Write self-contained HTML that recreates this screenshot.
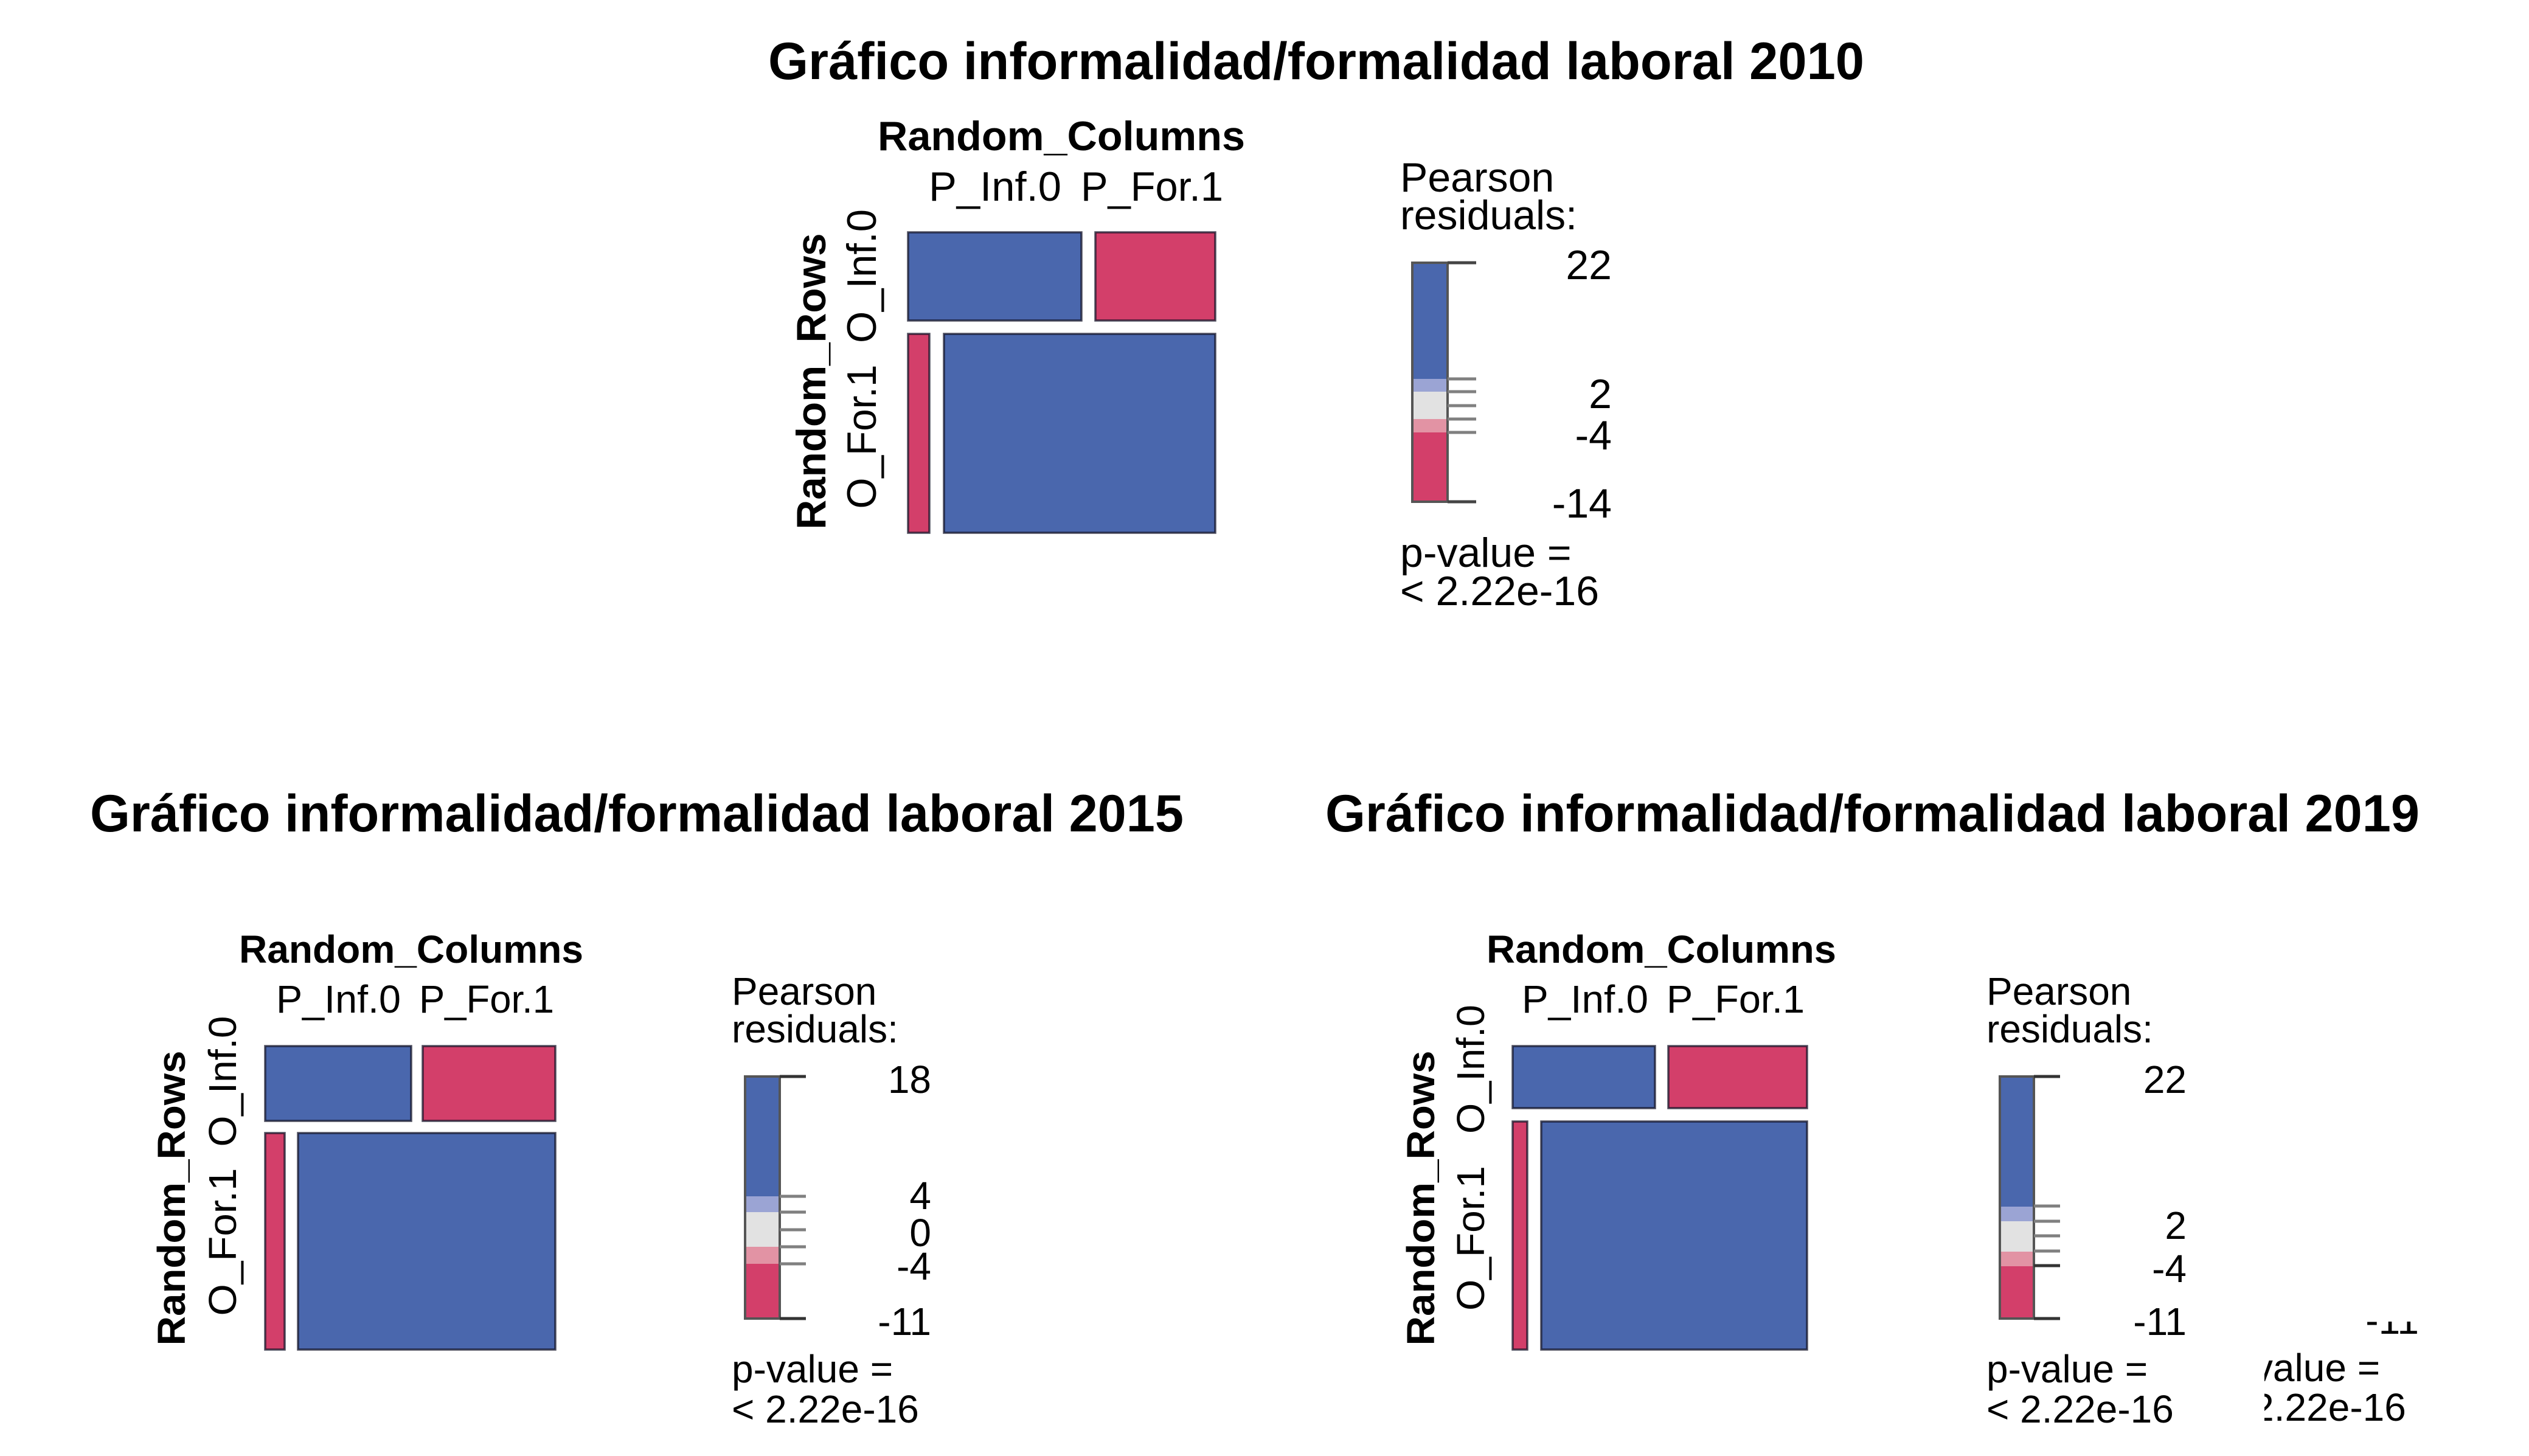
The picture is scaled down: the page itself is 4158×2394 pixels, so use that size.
<!DOCTYPE html>
<html>
<head>
<meta charset="utf-8">
<style>
html,body{margin:0;padding:0;background:#fff;}
svg{display:block;}
text{font-family:"Liberation Sans",Arial,sans-serif;fill:#000;}
.t{font-weight:bold;font-size:86px;}
.b{font-weight:bold;}
</style>
</head>
<body>
<svg xmlns="http://www.w3.org/2000/svg" width="4158" height="2394" viewBox="0 0 4158 2394">
<rect x="0" y="0" width="4158" height="2394" fill="#fff"/>
<defs>
<clipPath id="dup"><rect x="3723" y="2173" width="435" height="221"/></clipPath>
</defs>

<!-- Titles -->
<text class="t" x="1263" y="130" textLength="1802" lengthAdjust="spacingAndGlyphs">Gráfico informalidad/formalidad laboral 2010</text>
<text class="t" x="148" y="1367" font-size="84" textLength="1798" lengthAdjust="spacingAndGlyphs">Gráfico informalidad/formalidad laboral 2015</text>
<text class="t" x="2179" y="1367" font-size="84" textLength="1799" lengthAdjust="spacingAndGlyphs">Gráfico informalidad/formalidad laboral 2019</text>

<!-- ===== Panel 2010 ===== -->
<g font-size="68">
<text class="b" x="1443" y="247" textLength="604" lengthAdjust="spacingAndGlyphs">Random_Columns</text>
<text x="1527" y="330" textLength="218" lengthAdjust="spacingAndGlyphs">P_Inf.0</text>
<text x="1777" y="330" textLength="234" lengthAdjust="spacingAndGlyphs">P_For.1</text>
<g stroke="rgba(20,20,40,0.75)" stroke-width="3.5">
<rect x="1493" y="382" width="285" height="145" fill="#4A67AD"/>
<rect x="1801" y="382" width="197" height="145" fill="#D33F6A"/>
<rect x="1493" y="549" width="35" height="327" fill="#D33F6A"/>
<rect x="1552" y="549" width="446" height="327" fill="#4A67AD"/>
</g>
<text class="b" transform="translate(1357,627) rotate(-90)" text-anchor="middle" textLength="487" lengthAdjust="spacingAndGlyphs">Random_Rows</text>
<text transform="translate(1440,718) rotate(-90)" text-anchor="middle" textLength="237" lengthAdjust="spacingAndGlyphs">O_For.1</text>
<text transform="translate(1440,454) rotate(-90)" text-anchor="middle" textLength="220" lengthAdjust="spacingAndGlyphs">O_Inf.0</text>
<!-- legend -->
<text x="2302" y="315">Pearson</text>
<text x="2302" y="377">residuals:</text>
<rect x="2322" y="432" width="58" height="191" fill="#4A67AD"/>
<rect x="2322" y="623" width="58" height="21" fill="#9BA4D4"/>
<rect x="2322" y="644" width="58" height="45" fill="#E2E2E2"/>
<rect x="2322" y="689" width="58" height="22" fill="#E293A4"/>
<rect x="2322" y="711" width="58" height="114" fill="#D33F6A"/>
<rect x="2322" y="432" width="58" height="393" fill="none" stroke="#555" stroke-width="4"/>
<g stroke-width="5">
<line x1="2380" y1="432" x2="2427" y2="432" stroke="#444"/>
<line x1="2380" y1="623" x2="2427" y2="623" stroke="#808080"/>
<line x1="2380" y1="644" x2="2427" y2="644" stroke="#808080"/>
<line x1="2380" y1="667" x2="2427" y2="667" stroke="#808080"/>
<line x1="2380" y1="689" x2="2427" y2="689" stroke="#808080"/>
<line x1="2380" y1="711" x2="2427" y2="711" stroke="#808080"/>
<line x1="2380" y1="825" x2="2427" y2="825" stroke="#444"/>
</g>
<g text-anchor="end">
<text x="2650" y="459">22</text>
<text x="2650" y="671">2</text>
<text x="2650" y="739">-4</text>
<text x="2650" y="851">-14</text>
</g>
<text x="2302" y="932">p-value =</text>
<text x="2302" y="995">&lt; 2.22e-16</text>
</g>

<!-- ===== Panel 2015 ===== -->
<g font-size="64">
<text class="b" x="393" y="1583" textLength="566" lengthAdjust="spacingAndGlyphs">Random_Columns</text>
<text x="454" y="1665" textLength="205" lengthAdjust="spacingAndGlyphs">P_Inf.0</text>
<text x="689" y="1665" textLength="222" lengthAdjust="spacingAndGlyphs">P_For.1</text>
<g stroke="rgba(20,20,40,0.75)" stroke-width="3.5">
<rect x="436" y="1720" width="240" height="123" fill="#4A67AD"/>
<rect x="695" y="1720" width="218" height="123" fill="#D33F6A"/>
<rect x="436" y="1863" width="32" height="356" fill="#D33F6A"/>
<rect x="490" y="1863" width="423" height="356" fill="#4A67AD"/>
</g>
<text class="b" transform="translate(304,1970) rotate(-90)" text-anchor="middle" textLength="485" lengthAdjust="spacingAndGlyphs">Random_Rows</text>
<text transform="translate(388,2042) rotate(-90)" text-anchor="middle" textLength="243" lengthAdjust="spacingAndGlyphs">O_For.1</text>
<text transform="translate(388,1778) rotate(-90)" text-anchor="middle" textLength="215" lengthAdjust="spacingAndGlyphs">O_Inf.0</text>
<!-- legend -->
<text x="1203" y="1652">Pearson</text>
<text x="1203" y="1714">residuals:</text>
<rect x="1225" y="1770" width="57" height="197" fill="#4A67AD"/>
<rect x="1225" y="1967" width="57" height="26" fill="#9BA4D4"/>
<rect x="1225" y="1993" width="57" height="57" fill="#E2E2E2"/>
<rect x="1225" y="2050" width="57" height="28" fill="#E293A4"/>
<rect x="1225" y="2078" width="57" height="90" fill="#D33F6A"/>
<rect x="1225" y="1770" width="57" height="398" fill="none" stroke="#555" stroke-width="4"/>
<g stroke-width="5">
<line x1="1282" y1="1770" x2="1325" y2="1770" stroke="#333"/>
<line x1="1282" y1="1967" x2="1325" y2="1967" stroke="#808080"/>
<line x1="1282" y1="1993" x2="1325" y2="1993" stroke="#808080"/>
<line x1="1282" y1="2022" x2="1325" y2="2022" stroke="#808080"/>
<line x1="1282" y1="2050" x2="1325" y2="2050" stroke="#808080"/>
<line x1="1282" y1="2078" x2="1325" y2="2078" stroke="#808080"/>
<line x1="1282" y1="2168" x2="1325" y2="2168" stroke="#333"/>
</g>
<g text-anchor="end">
<text x="1531" y="1797">18</text>
<text x="1531" y="1988">4</text>
<text x="1531" y="2049">0</text>
<text x="1531" y="2104">-4</text>
<text x="1531" y="2195">-11</text>
</g>
<text x="1203" y="2273">p-value =</text>
<text x="1203" y="2339">&lt; 2.22e-16</text>
</g>

<!-- ===== Panel 2019 ===== -->
<g font-size="64">
<text class="b" x="2444" y="1583" textLength="575" lengthAdjust="spacingAndGlyphs">Random_Columns</text>
<text x="2502" y="1665" textLength="208" lengthAdjust="spacingAndGlyphs">P_Inf.0</text>
<text x="2740" y="1665" textLength="227" lengthAdjust="spacingAndGlyphs">P_For.1</text>
<g stroke="rgba(20,20,40,0.75)" stroke-width="3.5">
<rect x="2487" y="1720" width="234" height="102" fill="#4A67AD"/>
<rect x="2743" y="1720" width="228" height="102" fill="#D33F6A"/>
<rect x="2487" y="1844" width="24" height="375" fill="#D33F6A"/>
<rect x="2534" y="1844" width="437" height="375" fill="#4A67AD"/>
</g>
<text class="b" transform="translate(2358,1970) rotate(-90)" text-anchor="middle" textLength="485" lengthAdjust="spacingAndGlyphs">Random_Rows</text>
<text transform="translate(2440,2036) rotate(-90)" text-anchor="middle" textLength="238" lengthAdjust="spacingAndGlyphs">O_For.1</text>
<text transform="translate(2440,1758) rotate(-90)" text-anchor="middle" textLength="212" lengthAdjust="spacingAndGlyphs">O_Inf.0</text>
<!-- legend -->
<text x="3266" y="1652">Pearson</text>
<text x="3266" y="1714">residuals:</text>
<rect x="3288" y="1770" width="56" height="214" fill="#4A67AD"/>
<rect x="3288" y="1984" width="56" height="24" fill="#9BA4D4"/>
<rect x="3288" y="2008" width="56" height="50" fill="#E2E2E2"/>
<rect x="3288" y="2058" width="56" height="24" fill="#E293A4"/>
<rect x="3288" y="2082" width="56" height="86" fill="#D33F6A"/>
<rect x="3288" y="1770" width="56" height="398" fill="none" stroke="#555" stroke-width="4"/>
<g stroke-width="5">
<line x1="3344" y1="1770" x2="3387" y2="1770" stroke="#333"/>
<line x1="3344" y1="1983" x2="3387" y2="1983" stroke="#808080"/>
<line x1="3344" y1="2008" x2="3387" y2="2008" stroke="#808080"/>
<line x1="3344" y1="2032" x2="3387" y2="2032" stroke="#808080"/>
<line x1="3344" y1="2057" x2="3387" y2="2057" stroke="#808080"/>
<line x1="3344" y1="2081" x2="3387" y2="2081" stroke="#333"/>
<line x1="3344" y1="2168" x2="3387" y2="2168" stroke="#333"/>
</g>
<g text-anchor="end">
<text x="3595" y="1797">22</text>
<text x="3595" y="2037">2</text>
<text x="3595" y="2108">-4</text>
<text x="3595" y="2195">-11</text>
</g>
<text x="3266" y="2273">p-value =</text>
<text x="3266" y="2339">&lt; 2.22e-16</text>

<!-- clipped duplicate legend fragment -->
<g clip-path="url(#dup)">
<text x="3977" y="2193" text-anchor="end">-11</text>
<text x="3648" y="2271">p-value =</text>
<text x="3648" y="2336">&lt; 2.22e-16</text>
</g>
</g>
</svg>
</body>
</html>
